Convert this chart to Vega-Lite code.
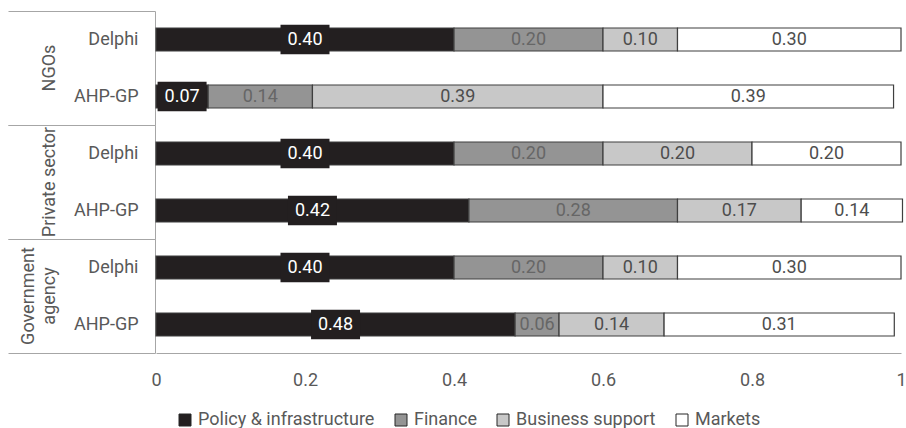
{
  "$schema": "https://vega.github.io/schema/vega-lite/v6.json",
  "background": "white",
  "padding": {"left": 7, "top": 2, "right": 5, "bottom": 0},
  "config": {"font": "Roboto", "view": {"stroke": null}},
  "data": {"values": [
    {"group": "NGOs", "method": "Delphi", "category": "Policy & infrastructure", "value": 0.40},
    {"group": "NGOs", "method": "Delphi", "category": "Finance", "value": 0.20},
    {"group": "NGOs", "method": "Delphi", "category": "Business support", "value": 0.10},
    {"group": "NGOs", "method": "Delphi", "category": "Markets", "value": 0.30},
    {"group": "NGOs", "method": "AHP-GP", "category": "Policy & infrastructure", "value": 0.07},
    {"group": "NGOs", "method": "AHP-GP", "category": "Finance", "value": 0.14},
    {"group": "NGOs", "method": "AHP-GP", "category": "Business support", "value": 0.39},
    {"group": "NGOs", "method": "AHP-GP", "category": "Markets", "value": 0.39},
    {"group": "Private sector", "method": "Delphi", "category": "Policy & infrastructure", "value": 0.40},
    {"group": "Private sector", "method": "Delphi", "category": "Finance", "value": 0.20},
    {"group": "Private sector", "method": "Delphi", "category": "Business support", "value": 0.20},
    {"group": "Private sector", "method": "Delphi", "category": "Markets", "value": 0.20},
    {"group": "Private sector", "method": "AHP-GP", "category": "Policy & infrastructure", "value": 0.42},
    {"group": "Private sector", "method": "AHP-GP", "category": "Finance", "value": 0.28},
    {"group": "Private sector", "method": "AHP-GP", "category": "Business support", "value": 0.166},
    {"group": "Private sector", "method": "AHP-GP", "category": "Markets", "value": 0.136},
    {"group": "Government agency", "method": "Delphi", "category": "Policy & infrastructure", "value": 0.40},
    {"group": "Government agency", "method": "Delphi", "category": "Finance", "value": 0.20},
    {"group": "Government agency", "method": "Delphi", "category": "Business support", "value": 0.10},
    {"group": "Government agency", "method": "Delphi", "category": "Markets", "value": 0.30},
    {"group": "Government agency", "method": "AHP-GP", "category": "Policy & infrastructure", "value": 0.482},
    {"group": "Government agency", "method": "AHP-GP", "category": "Finance", "value": 0.059},
    {"group": "Government agency", "method": "AHP-GP", "category": "Business support", "value": 0.141},
    {"group": "Government agency", "method": "AHP-GP", "category": "Markets", "value": 0.309}
  ]},
  "transform": [
    {"calculate": "indexof(['Policy & infrastructure','Finance','Business support','Markets'], datum.category)", "as": "ord"},
    {"stack": "value", "groupby": ["group", "method"], "sort": [{"field": "ord", "order": "ascending"}], "as": ["x0", "x1"]},
    {"calculate": "(datum.x0 + datum.x1) / 2", "as": "mid"}
  ],
  "spacing": 0,
  "facet": {
    "row": {
      "field": "group", "type": "nominal",
      "sort": ["NGOs", "Private sector", "Government agency"],
      "title": null,
      "header": {
        "labelAngle": -90, "labelOrient": "left", "labelAnchor": "middle",
        "labelFontSize": 18, "labelColor": "#595959", "labelFont": "Roboto",
        "labelPadding": -60, "labelLineHeight": 21,
        "labelExpr": "datum.value == 'Government agency' ? ['Government', 'agency'] : datum.value"
      }
    }
  },
  "spec": {
    "width": 745,
    "height": 114,
    "encoding": {
      "y": {
        "field": "method", "type": "nominal", "sort": ["Delphi", "AHP-GP"],
        "scale": {"paddingInner": 0, "paddingOuter": 0},
        "axis": {
          "title": null, "labelFontSize": 18, "labelColor": "#595959", "labelFont": "Roboto",
          "domainColor": "#a6a6a6", "tickColor": "#a6a6a6", "tickSize": 147, "tickBand": "extent",
          "labelPadding": -130,
          "tickOpacity": {"condition": {"test": "datum.value === 'Delphi'", "value": 0}, "value": 1}
        }
      }
    },
    "layer": [
      {
        "mark": {"type": "bar", "size": 23, "stroke": "#3f3f3f", "strokeWidth": 1.2},
        "encoding": {
          "x": {"field": "x0", "type": "quantitative", "scale": {"domain": [0, 1], "nice": false},
                "axis": {"title": null, "values": [0, 0.2, 0.4, 0.6, 0.8, 1], "format": "~g", "grid": false, "ticks": false,
                         "labelFontSize": 18, "labelColor": "#595959", "labelFont": "Roboto",
                         "domainColor": "#a6a6a6", "labelPadding": 18, "labelFlush": false}},
          "x2": {"field": "x1"},
          "color": {
            "field": "category", "type": "nominal",
            "scale": {"domain": ["Policy & infrastructure", "Finance", "Business support", "Markets"],
                      "range": ["#231f20", "#949494", "#c8c8c8", "#ffffff"]},
            "legend": {
              "title": null, "orient": "bottom", "direction": "horizontal",
              "symbolType": "square", "symbolSize": 144, "symbolStrokeColor": "#262626", "symbolStrokeWidth": 1,
              "symbolOpacity": 1, "labelLimit": 400,
              "labelFontSize": 18, "labelColor": "#595959", "labelFont": "Roboto",
              "columnPadding": 17, "labelOffset": 4, "offset": 2, "padding": 20
            }
          }
        }
      },
      {
        "transform": [{"filter": "datum.ord == 0"}],
        "mark": {"type": "point", "shape": "M-1,-0.6H1V0.6H-1Z", "filled": true, "size": 2401, "color": "#231f20", "opacity": 1, "strokeWidth": 0},
        "encoding": {
          "x": {"field": "mid", "type": "quantitative", "axis": {"title": null}}
        }
      },
      {
        "mark": {"type": "text", "fontSize": 18, "font": "Roboto"},
        "encoding": {
          "x": {"field": "mid", "type": "quantitative", "axis": {"title": null}},
          "text": {"field": "value", "type": "quantitative", "format": ".2f"},
          "color": {
            "condition": [
              {"test": "datum.ord == 0", "value": "#ffffff"},
              {"test": "datum.ord == 1", "value": "#666666"}
            ],
            "value": "#4d4d4d"
          }
        }
      }
    ]
  }
}
